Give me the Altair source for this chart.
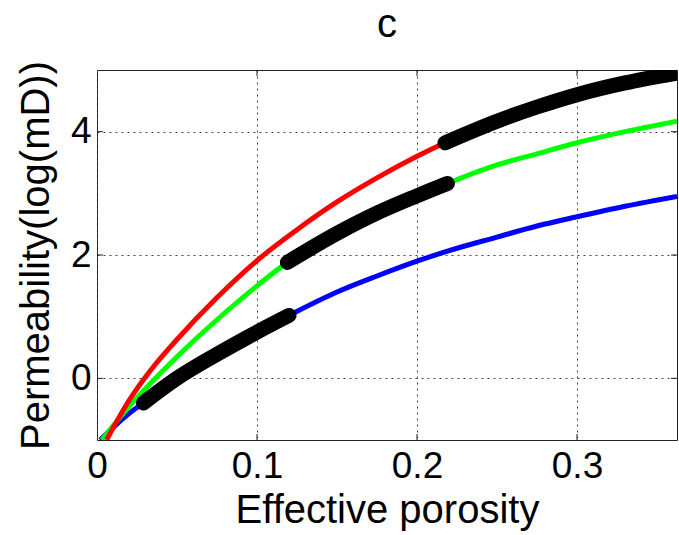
import altair as alt
import pandas as pd

# Curves (x = effective porosity, y = log permeability)
red_x = [0.006, 0.02, 0.035, 0.05, 0.075, 0.1, 0.125, 0.15, 0.175, 0.2, 0.2175,
         0.25, 0.275, 0.3, 0.33, 0.3625]
red_y = [-1.0, -0.36, 0.18, 0.63, 1.31, 1.91, 2.41, 2.86, 3.25, 3.60, 3.82,
         4.17, 4.40, 4.60, 4.79, 4.95]

green_x = [0.003, 0.02, 0.05, 0.075, 0.1, 0.119, 0.15, 0.175, 0.2, 0.219,
           0.25, 0.275, 0.3, 0.33, 0.3625]
green_y = [-1.0, -0.46, 0.35, 0.95, 1.50, 1.88, 2.35, 2.68, 2.96, 3.16,
           3.46, 3.64, 3.82, 4.00, 4.17]

blue_x = [0.002, 0.02, 0.029, 0.05, 0.075, 0.1, 0.12, 0.15, 0.175, 0.2, 0.22,
          0.25, 0.275, 0.3, 0.33, 0.3625]
blue_y = [-1.0, -0.57, -0.40, 0.00, 0.39, 0.75, 1.02, 1.40, 1.66, 1.90, 2.07,
          2.29, 2.47, 2.62, 2.79, 2.95]

# x-ranges drawn as the thick black highlighted part of each curve
red_bold = (0.2175, 0.3625)
green_bold = (0.119, 0.219)
blue_bold = (0.029, 0.12)

x_ticks = [0, 0.1, 0.2, 0.3]
y_ticks = [0, 2, 4]
x_domain = [0, 0.3625]
y_domain = [-1, 5]

series = [("blue", blue_x, blue_y, blue_bold),
          ("green", green_x, green_y, green_bold),
          ("red", red_x, red_y, red_bold)]

rows, bold_rows = [], []
for name, xs, ys, (b0, b1) in series:
    for i, (xv, yv) in enumerate(zip(xs, ys)):
        rows.append({"series": name, "x": xv, "y": yv, "order": i})
        if b0 - 1e-9 <= xv <= b1 + 1e-9:
            bold_rows.append({"series": name, "x": xv, "y": yv, "order": i})
df = pd.DataFrame(rows)
bold_df = pd.DataFrame(bold_rows)

W, H = 580, 370
FONT = "Liberation Sans"

xscale = alt.Scale(domain=x_domain, nice=False, zero=False)
yscale = alt.Scale(domain=y_domain, nice=False, zero=False)

grid_dash = [2, 4]

xaxis = alt.Axis(values=x_ticks, format="~g", title="Effective porosity",
                 grid=True, gridDash=grid_dash, gridColor="#444", gridOpacity=1,
                 gridWidth=1, domain=False, ticks=False, labelFlush=False,
                 labelFont=FONT, labelFontSize=37, labelColor="black", labelPadding=8,
                 titleFont=FONT, titleFontSize=40, titleFontWeight="normal",
                 titleColor="black", titlePadding=6)
yaxis = alt.Axis(values=y_ticks, format="~g", title="Permeability(log(mD))",
                 grid=True, gridDash=grid_dash, gridColor="#444", gridOpacity=1,
                 gridWidth=1, domain=False, ticks=False, labelFlush=False,
                 labelFont=FONT, labelFontSize=37, labelColor="black", labelPadding=6,
                 titleFont=FONT, titleFontSize=40, titleFontWeight="normal",
                 titleColor="black", titlePadding=14)

lines = alt.Chart(df).mark_line(strokeWidth=5, clip=True, interpolate="monotone").encode(
    x=alt.X("x:Q", scale=xscale, axis=xaxis),
    y=alt.Y("y:Q", scale=yscale, axis=yaxis),
    color=alt.Color("series:N", scale=alt.Scale(domain=["blue", "green", "red"],
                                                range=["#0000ff", "#00ff00", "#ff0000"]),
                    legend=None),
    order=alt.Order("order:Q"),
)

bold = alt.Chart(bold_df).mark_line(strokeWidth=15, strokeCap="round", color="black",
                                    clip=True, interpolate="monotone").encode(
    x=alt.X("x:Q", scale=xscale),
    y=alt.Y("y:Q", scale=yscale),
    detail="series:N",
    order=alt.Order("order:Q"),
)

xt = pd.DataFrame({"v": x_ticks[1:]})
yt = pd.DataFrame({"v": y_ticks})
tick_color = "#222"
xt_bottom = alt.Chart(xt).mark_rule(color=tick_color, strokeWidth=1).encode(
    x=alt.X("v:Q", scale=xscale), y=alt.value(H), y2=alt.value(H - 6))
xt_top = alt.Chart(xt).mark_rule(color=tick_color, strokeWidth=1).encode(
    x=alt.X("v:Q", scale=xscale), y=alt.value(0), y2=alt.value(6))
yt_left = alt.Chart(yt).mark_rule(color=tick_color, strokeWidth=1).encode(
    y=alt.Y("v:Q", scale=yscale), x=alt.value(0), x2=alt.value(6))
yt_right = alt.Chart(yt).mark_rule(color=tick_color, strokeWidth=1).encode(
    y=alt.Y("v:Q", scale=yscale), x=alt.value(W), x2=alt.value(W - 6))

chart = alt.layer(lines, bold, xt_bottom, xt_top, yt_left, yt_right).properties(
    width=W, height=H,
    title=alt.TitleParams("c", font=FONT, fontSize=40, fontWeight="normal",
                          color="black", offset=16, anchor="middle"),
    padding={"left": 97, "top": 70, "right": 2, "bottom": 95},
    autosize=alt.AutoSizeParams(type="none"),
    background="white",
).configure_view(stroke="#222", strokeWidth=1)

chart.save("out.html", embed_options={"renderer": "svg", "actions": False})
